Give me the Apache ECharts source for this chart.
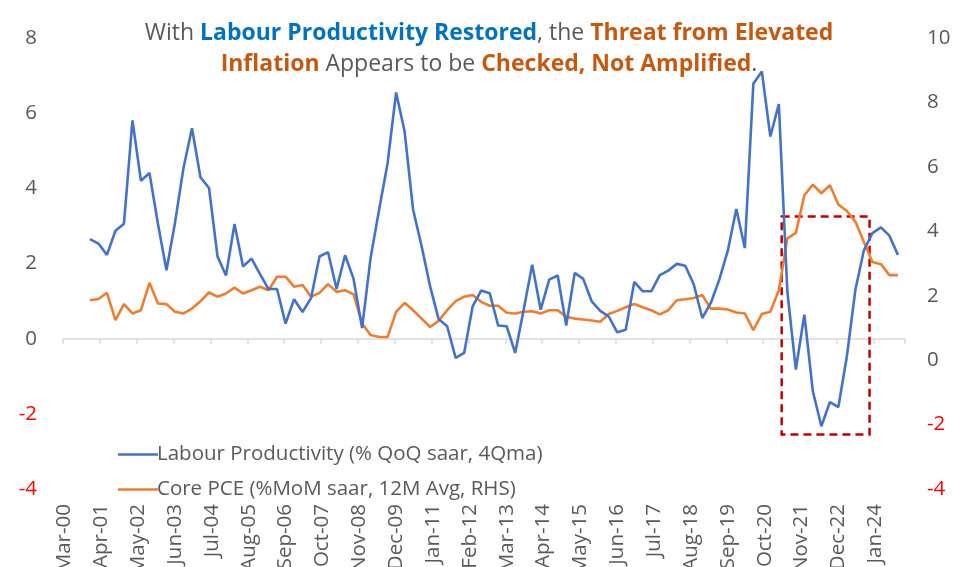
<!DOCTYPE html>
<html>
<head>
<meta charset="utf-8">
<script src="https://cdn.jsdelivr.net/npm/echarts@6/dist/echarts.min.js"></script>
<style>
html,body{margin:0;padding:0;background:#fff;overflow:hidden;}
#chart{width:955px;height:567px;}
</style>
</head>
<body>
<div id="chart"></div>
<script>
// Monthly category axis: Mar-00 .. Nov-24
var monthNames = ['Jan','Feb','Mar','Apr','May','Jun','Jul','Aug','Sep','Oct','Nov','Dec'];
var startYear = 2000, startMonth = 2, monthCount = 297;
// Quarterly observations start at Dec-00 (month index 9), every 3 months
var firstQuarterIndex = 9;

// Labour Productivity (% QoQ saar, 4Qma) — left axis, quarterly Dec-00 .. Sep-24
var labourProductivity = [
  2.65, 2.53, 2.23, 2.87, 3.06, 5.81, 4.20, 4.41, 3.05, 1.82,
  3.08, 4.54, 5.60, 4.29, 4.01, 2.19, 1.68, 3.05, 1.92, 2.13,
  1.72, 1.32, 1.32, 0.40, 1.05, 0.71, 1.08, 2.19, 2.30, 1.32,
  2.22, 1.59, 0.28, 2.15, 3.43, 4.67, 6.55, 5.51, 3.43, 2.46,
  1.39, 0.52, 0.33, -0.51, -0.38, 0.86, 1.28, 1.21, 0.35, 0.33,
  -0.38, 0.77, 1.97, 0.77, 1.57, 1.68, 0.35, 1.75, 1.59, 0.99,
  0.74, 0.59, 0.17, 0.24, 1.51, 1.26, 1.26, 1.69, 1.81, 1.99,
  1.94, 1.44, 0.55, 0.95, 1.57, 2.34, 3.45, 2.41, 6.78, 7.11,
  5.38, 6.24, 1.25, -0.82, 0.64, -1.40, -2.33, -1.69, -1.82, -0.47,
  1.30, 2.35, 2.81, 2.96, 2.74, 2.23
];

// Core PCE (%MoM saar, 12M Avg, RHS) — right axis, same quarterly dates
var corePCE = [
  1.86, 1.90, 2.09, 1.24, 1.74, 1.45, 1.55, 2.40, 1.76, 1.74,
  1.50, 1.45, 1.60, 1.83, 2.10, 1.97, 2.07, 2.25, 2.07, 2.17,
  2.28, 2.17, 2.59, 2.59, 2.28, 2.33, 1.97, 2.09, 2.36, 2.12,
  2.17, 2.04, 1.14, 0.78, 0.72, 0.72, 1.50, 1.78, 1.55, 1.29,
  1.03, 1.22, 1.55, 1.83, 1.97, 2.02, 1.81, 1.69, 1.69, 1.47,
  1.45, 1.50, 1.52, 1.45, 1.55, 1.55, 1.35, 1.29, 1.26, 1.23,
  1.19, 1.43, 1.53, 1.64, 1.74, 1.64, 1.55, 1.42, 1.55, 1.86,
  1.89, 1.93, 2.02, 1.60, 1.60, 1.57, 1.48, 1.45, 0.93, 1.43,
  1.50, 2.17, 3.78, 3.95, 5.12, 5.45, 5.18, 5.43, 4.83, 4.63,
  4.30, 3.67, 3.05, 2.98, 2.64, 2.64
];

var seriesNames = ['Labour Productivity (% QoQ saar, 4Qma)', 'Core PCE (%MoM saar, 12M Avg, RHS)'];

// Highlighted window (dashed box)
var boxStart = 'Apr-21', boxEnd = 'Nov-23', boxTop = 3.25, boxBottom = -2.55;

// Build categories and monthly-spaced series
var categories = [];
for (var i = 0; i < monthCount; i++) {
  var m = (startMonth + i) % 12;
  var y = startYear + Math.floor((startMonth + i) / 12);
  categories.push(monthNames[m] + '-' + String(y % 100).padStart(2, '0'));
}
function spread(arr) {
  var out = new Array(monthCount).fill(null);
  arr.forEach(function (v, k) { out[firstQuarterIndex + 3 * k] = v; });
  return out;
}

var grey = '#595959';
var labelColor = function (v) { return Number(v) < 0 ? '#FF0000' : grey; };
var FONT = 'Open Sans';
var TS = 23;

var chart = echarts.init(document.getElementById('chart'), null, {renderer: 'canvas'});
chart.setOption({
  animation: false,
  backgroundColor: '#ffffff',
  title: {
    left: 484,
    top: 13,
    textAlign: 'center',
    text: '{g|With }{b|Labour Productivity Restored}{g|, the }{o|Threat from Elevated}\n{o|Inflation}{g| Appears to be }{o|Checked, Not Amplified}{g|.}',
    textStyle: {
      fontFamily: FONT,
      fontSize: TS,
      fontWeight: 'normal',
      lineHeight: 31,
      rich: {
        g: {color: grey, fontFamily: FONT, fontSize: TS, fontWeight: 'normal', lineHeight: 31},
        b: {color: '#0070C0', fontFamily: FONT, fontSize: TS, fontWeight: 'bold', lineHeight: 31},
        o: {color: '#C65911', fontFamily: FONT, fontSize: TS, fontWeight: 'bold', lineHeight: 31}
      }
    }
  },
  legend: {
    orient: 'vertical',
    left: 113,
    top: 439,
    icon: 'rect',
    itemWidth: 40,
    itemHeight: 2.6,
    itemGap: 14,
    data: seriesNames,
    textStyle: {color: grey, fontFamily: FONT, fontSize: 20.5, padding: [0, 0, 0, -6], lineHeight: 20}
  },
  grid: {left: 63, right: 50, top: 38, bottom: 78, containLabel: false, outerBoundsMode: 'none'},
  xAxis: [
    {
      type: 'category',
      data: categories,
      boundaryGap: true,
      axisLine: {show: true, onZero: true, lineStyle: {color: '#D9D9D9', width: 1.5}},
      axisTick: {show: true, interval: 12, length: 5, lineStyle: {color: '#D9D9D9', width: 1.5}},
      axisLabel: {show: false},
      splitLine: {show: false}
    },
    {
      type: 'category',
      data: categories,
      position: 'bottom',
      boundaryGap: true,
      axisLine: {show: false, onZero: false},
      axisTick: {show: false},
      axisLabel: {show: true, interval: 12, rotate: 90, margin: 15, color: grey, fontFamily: FONT, fontSize: 20.5},
      splitLine: {show: false}
    }
  ],
  yAxis: [
    {
      type: 'value',
      min: -4, max: 8, interval: 2,
      position: 'left',
      axisLine: {show: false},
      axisTick: {show: false},
      splitLine: {show: false},
      axisLabel: {margin: 26, color: labelColor, fontFamily: FONT, fontSize: 20.5}
    },
    {
      type: 'value',
      min: -4, max: 10, interval: 2,
      position: 'right',
      axisLine: {show: false},
      axisTick: {show: false},
      splitLine: {show: false},
      axisLabel: {margin: 22, color: labelColor, fontFamily: FONT, fontSize: 20.5}
    }
  ],
  series: [
    {
      name: seriesNames[0],
      type: 'line',
      xAxisIndex: 0,
      yAxisIndex: 0,
      data: spread(labourProductivity),
      connectNulls: true,
      symbol: 'none',
      lineStyle: {color: '#4472C4', width: 2.6},
      itemStyle: {color: '#4472C4'},
      z: 3,
      markArea: {
        silent: true,
        itemStyle: {color: 'rgba(0,0,0,0)', borderColor: '#C00000', borderWidth: 2.5, borderType: [8, 5]},
        data: [[{xAxis: boxStart, yAxis: boxTop}, {xAxis: boxEnd, yAxis: boxBottom}]]
      }
    },
    {
      name: seriesNames[1],
      type: 'line',
      xAxisIndex: 0,
      yAxisIndex: 1,
      data: spread(corePCE),
      connectNulls: true,
      symbol: 'none',
      lineStyle: {color: '#ED7D31', width: 2.6},
      itemStyle: {color: '#ED7D31'},
      z: 2
    }
  ]
});
</script>
</body>
</html>
